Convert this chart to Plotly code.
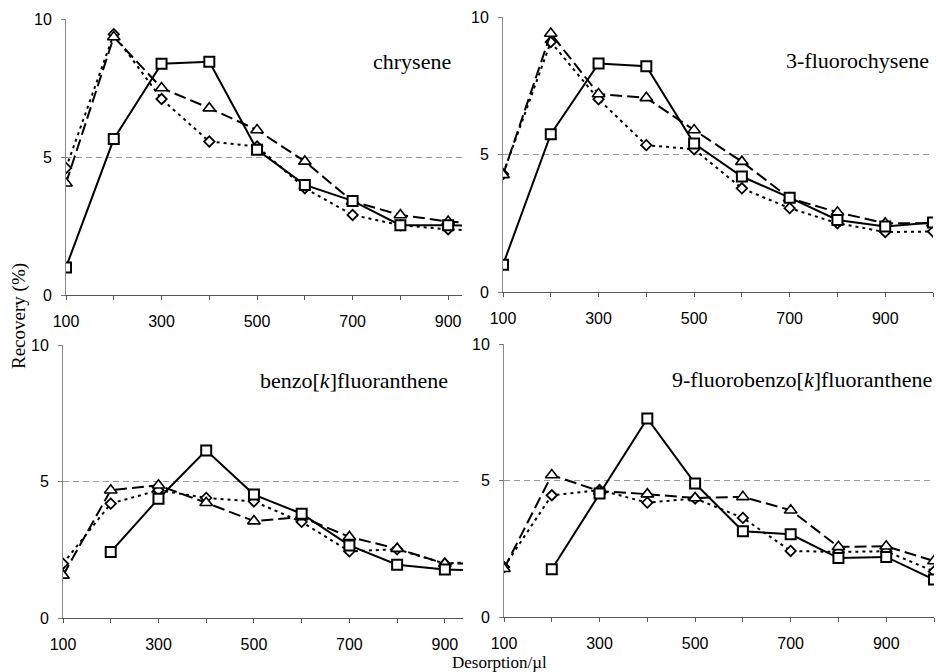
import plotly.graph_objects as go

# ---------------- data ----------------
volumes = [100, 200, 300, 400, 500, 600, 700, 800, 900, 1000]
x_tick_vals = [100, 200, 300, 400, 500, 600, 700, 800, 900, 1000]
x_tick_text = ["100", "", "300", "", "500", "", "700", "", "900", ""]
y_tick_vals = [0, 5, 10]
y_tick_text = ["0", "5", "10"]

panel_titles = ["chrysene", "3-fluorochysene",
                "benzo[<i>k</i>]fluoranthene", "9-fluorobenzo[<i>k</i>]fluoranthene"]

# chrysene
chry_square = [1.0, 5.65, 8.38, 8.45, 5.26, 3.99, 3.41, 2.53, 2.53, 2.5]
chry_triangle = [4.05, 9.35, 7.5, 6.77, 5.98, 4.84, 3.39, 2.9, 2.66, 2.55]
chry_diamond = [4.6, 9.45, 7.1, 5.56, 5.38, 3.87, 2.9, 2.53, 2.38, 2.3]

# 3-fluorochysene
fchry_square = [0.99, 5.74, 8.31, 8.21, 5.4, 4.2, 3.43, 2.62, 2.38, 2.53]
fchry_triangle = [4.26, 9.4, 7.2, 7.06, 5.89, 4.74, 3.41, 2.9, 2.5, 2.5]
fchry_diamond = [4.29, 9.09, 7.01, 5.34, 5.19, 3.77, 3.05, 2.5, 2.18, 2.2]

# benzo[k]fluoranthene
bkf_square = [None, 2.42, 4.37, 6.14, 4.52, 3.82, 2.66, 1.95, 1.78, 1.72]
bkf_triangle = [1.56, 4.68, 4.86, 4.22, 3.55, 3.7, 2.97, 2.54, 1.99, 2.0]
bkf_diamond = [1.99, 4.19, 4.68, 4.4, 4.27, 3.52, 2.44, 2.52, 1.99, 2.1]

# 9-fluorobenzo[k]fluoranthene
fbkf_square = [None, 1.75, 4.52, 7.27, 4.89, 3.14, 3.03, 2.16, 2.2, 1.37]
fbkf_triangle = [1.77, 5.2, 4.61, 4.5, 4.36, 4.4, 3.91, 2.57, 2.59, 2.05]
fbkf_diamond = [1.83, 4.46, 4.65, 4.19, 4.34, 3.63, 2.42, 2.38, 2.41, 1.67]

panels = [
    (chry_diamond, chry_triangle, chry_square),
    (fchry_diamond, fchry_triangle, fchry_square),
    (bkf_diamond, bkf_triangle, bkf_square),
    (fbkf_diamond, fbkf_triangle, fbkf_square),
]

# ---------------- layout geometry ----------------
W, H = 937, 672
# (x0px, x1px, ytop_px, ybottom_px, xmax)
geom = [
    (66, 462, 19, 295, 929),
    (503, 933, 17, 292, 1000),
    (63, 463, 345, 618, 938),
    (504, 934, 344, 617, 1000),
]
title_pos = [(453, 61), (931, 60), (450, 380), (934, 379)]

fig = go.Figure()

for i, (diam, tri, sq) in enumerate(panels):
    xa = "x" if i == 0 else f"x{i+1}"
    ya = "y" if i == 0 else f"y{i+1}"
    fig.add_trace(go.Scatter(
        x=volumes, y=diam, xaxis=xa, yaxis=ya, mode="lines+markers",
        line=dict(color="black", width=2, dash="3px,4px"),
        marker=dict(symbol="diamond", size=8, color="white",
                    line=dict(color="black", width=1.8)),
        showlegend=False, connectgaps=False))
    fig.add_trace(go.Scatter(
        x=volumes, y=tri, xaxis=xa, yaxis=ya, mode="lines+markers",
        line=dict(color="black", width=2, dash="12px,5px"),
        marker=dict(symbol="triangle-up", size=11, color="white",
                    line=dict(color="black", width=1.6)),
        showlegend=False, connectgaps=False))
    fig.add_trace(go.Scatter(
        x=volumes, y=sq, xaxis=xa, yaxis=ya, mode="lines+markers",
        line=dict(color="black", width=2),
        marker=dict(symbol="square", size=10, color="white",
                    line=dict(color="black", width=2)),
        showlegend=False, connectgaps=False))

layout = dict(
    width=W, height=H, autosize=False,
    margin=dict(l=0, r=0, t=0, b=0, pad=0, autoexpand=False),
    paper_bgcolor="white", plot_bgcolor="white",
    showlegend=False,
)

tick_font = dict(family="Liberation Sans, Arial, sans-serif", size=16, color="black")

for i, (x0, x1, yt, yb, xmax) in enumerate(geom):
    xk = "xaxis" if i == 0 else f"xaxis{i+1}"
    yk = "yaxis" if i == 0 else f"yaxis{i+1}"
    yref = "y" if i == 0 else f"y{i+1}"
    xref = "x" if i == 0 else f"x{i+1}"
    layout[xk] = dict(
        domain=[x0 / W, x1 / W], range=[100, xmax], anchor=yref,
        tickmode="array", tickvals=x_tick_vals, ticktext=x_tick_text,
        ticks="outside", ticklen=4, tickcolor="#555", tickwidth=1,
        showline=True, linecolor="#555", linewidth=1.2,
        showgrid=False, zeroline=False, tickfont=tick_font,
        ticklabelstandoff=8, fixedrange=True, automargin=False,
    )
    layout[yk] = dict(
        domain=[1 - yb / H, 1 - yt / H], range=[0, 10], anchor=xref,
        tickmode="array", tickvals=y_tick_vals, ticktext=y_tick_text,
        ticks="outside", ticklen=4, tickcolor="#777", tickwidth=1,
        showline=True, linecolor="#888", linewidth=1,
        showgrid=True, gridcolor="#999", griddash="6px,4px", gridwidth=1,
        zeroline=False, tickfont=tick_font, ticklabelstandoff=6,
        fixedrange=True, automargin=False,
    )

annotations = []
serif = "Liberation Serif, Times New Roman, serif"
for (tx, ty), t in zip(title_pos, panel_titles):
    annotations.append(dict(
        x=tx / W, y=1 - ty / H, xref="paper", yref="paper",
        text=t, showarrow=False, xanchor="right", yanchor="middle",
        font=dict(family=serif, size=22, color="black")))
annotations.append(dict(
    x=19 / W, y=1 - 316 / H, xref="paper", yref="paper",
    text="Recovery (%)", textangle=-90, showarrow=False,
    xanchor="center", yanchor="middle",
    font=dict(family=serif, size=19, color="black")))
annotations.append(dict(
    x=499 / W, y=1 - 662 / H, xref="paper", yref="paper",
    text="Desorption/µl", showarrow=False,
    xanchor="center", yanchor="middle",
    font=dict(family=serif, size=17, color="black")))
layout["annotations"] = annotations

fig.update_layout(**layout)
fig.write_html(
    "out.html",
    config={"displayModeBar": False},
    post_script="document.body.style.margin='0';document.body.style.padding='0';document.body.style.overflow='hidden';",
)
